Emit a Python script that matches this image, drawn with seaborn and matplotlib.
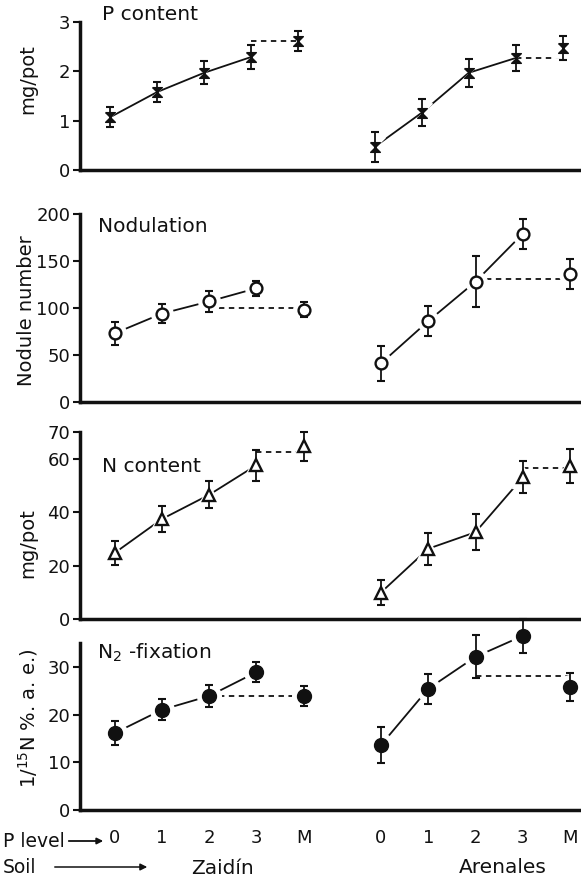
import numpy as np
import pandas as pd
import matplotlib.pyplot as plt
import matplotlib.patches as mpatches
import seaborn as sns

sns.set_theme(style="white")
plt.rcParams['font.family'] = ['DejaVu Sans']

levels = ["0", "1", "2", "3", "M"]
soils = ["Zaidín", "Arenales"]

p_zaidin = [1.07, 1.58, 1.97, 2.29, 2.62]
p_zaidin_err = [0.20, 0.20, 0.23, 0.25, 0.20]
p_arenales = [0.47, 1.16, 1.97, 2.27, 2.47]
p_arenales_err = [0.30, 0.27, 0.28, 0.26, 0.25]

nod_zaidin = [73, 94, 107, 121, 98]
nod_zaidin_err = [12, 10, 11, 8, 8]
nod_arenales = [41, 86, 128, 179, 136]
nod_arenales_err = [19, 16, 27, 16, 16]

n_zaidin = [24.7, 37.4, 46.5, 57.6, 64.6]
n_zaidin_err = [4.5, 4.8, 5.0, 5.8, 5.3]
n_arenales = [9.9, 26.3, 32.5, 53.0, 57.2]
n_arenales_err = [4.7, 6.0, 6.8, 6.0, 6.4]

fix_zaidin = [16.1, 21.0, 23.9, 28.9, 23.9]
fix_zaidin_err = [2.5, 2.2, 2.3, 2.1, 2.1]
fix_arenales = [13.6, 25.4, 32.1, 36.5, 25.8]
fix_arenales_err = [3.7, 3.1, 4.5, 3.6, 2.9]

# dashed link to M: (start level index, height) per soil
p_dash = [(3, 2.62), (3, 2.27)]
nod_dash = [(2, 100), (2, 131)]
n_dash = [(3, 62.5), (3, 56.4)]
fix_dash = [(2, 23.9), (2, 28.1)]

panels = [
    dict(name="P content", vals=[p_zaidin, p_arenales], errs=[p_zaidin_err, p_arenales_err],
         dash=p_dash, ylim=3, yticks=[0, 1, 2, 3], ylabel="mg/pot"),
    dict(name="Nodulation", vals=[nod_zaidin, nod_arenales], errs=[nod_zaidin_err, nod_arenales_err],
         dash=nod_dash, ylim=200, yticks=[0, 50, 100, 150, 200], ylabel="Nodule number"),
    dict(name="N content", vals=[n_zaidin, n_arenales], errs=[n_zaidin_err, n_arenales_err],
         dash=n_dash, ylim=70, yticks=[0, 20, 40, 60, 70], ylabel="mg/pot"),
    dict(name="N$_2$ -fixation", vals=[fix_zaidin, fix_arenales], errs=[fix_zaidin_err, fix_arenales_err],
         dash=fix_dash, ylim=35, yticks=[0, 10, 20, 30], ylabel="1/$^{15}$N %. a. e.)"),
]

hourglass = [(-1, 1), (1, 1), (-1, -1), (1, -1), (-1, 1)]
marker_styles = [
    dict(marker=hourglass, ms=7, mfc='#111111', mec='#111111'),
    dict(marker='o', ms=8.5, mfc='white', mec='#111111', mew=1.7),
    dict(marker='^', ms=8.5, mfc='white', mec='#111111', mew=1.7),
    dict(marker='o', ms=10, mfc='#111111', mec='#111111'),
]

# layout (pixels of the 581x880 reference)
W, H = 581, 880
boxes = [(22, 170), (214, 402), (432, 619), (643, 810)]
xlims = [(-0.64, 10.02), (-0.73, 9.86), (-0.73, 9.86), (-0.73, 9.86)]
title_pos = [(102, 15), (98, 227), (102, 467), (97, 653)]
ylabel_pos = [(28, 79), (27, 311), (28, 543), (28, 718)]
left_px = 80
soil_offset = [0.0, 5.63]


def xpos(s):
    return [soil_offset[s] + i for i in range(len(levels))]


rows = []
for pi, p in enumerate(panels):
    for s, soil in enumerate(soils):
        for i, lev in enumerate(levels):
            rows.append(dict(panel=pi, soil=soil, level=lev, x=xpos(s)[i],
                             value=p["vals"][s][i], err=p["errs"][s][i]))
df = pd.DataFrame(rows)

fig = plt.figure(figsize=(W / 100, H / 100), dpi=100)
ink = '#111111'

for pi, p in enumerate(panels):
    top, bot = boxes[pi]
    ax = fig.add_axes([left_px / W, 1 - bot / H, 1 - left_px / W, (bot - top) / H])
    sub = df[df.panel == pi]
    line_df = sub[sub.level != "M"]
    sns.lineplot(ax=ax, data=line_df, x="x", y="value", units="soil", estimator=None,
                 color=ink, lw=1.3, legend=False)
    for ln in ax.lines:
        ln.set_clip_on(False)
    ms = marker_styles[pi]
    for s, soil in enumerate(soils):
        d = sub[sub.soil == soil]
        start, lvl = p["dash"][s]
        xs = d.x.to_numpy()
        ax.plot([xs[start], xs[-1]], [lvl, lvl], ls=(0, (3, 2.5)), color=ink, lw=1.3)
        # white halo so the lines stop short of the symbols
        ax.plot(d.x, d.value, ls='none', marker=ms['marker'], ms=ms['ms'] + 7,
                mfc='white', mec='white', clip_on=False, zorder=3)
        cont = ax.errorbar(d.x, d.value, yerr=d.err, fmt='none', ecolor=ink,
                           elinewidth=1.3, capsize=3, capthick=1.5, zorder=4)
        for art in cont.get_children():
            art.set_clip_on(False)
        ax.plot(d.x, d.value, ls='none', clip_on=False, zorder=5, **ms)

    ax.set_xlim(*xlims[pi])
    ax.set_ylim(0, p["ylim"])
    ax.set_yticks(p["yticks"])
    ax.set_xlabel("")
    ax.set_ylabel("")
    sns.despine(ax=ax)
    for side in ["left", "bottom"]:
        ax.spines[side].set_linewidth(2.5)
        ax.spines[side].set_color(ink)
    ax.tick_params(axis='y', direction='out', length=5, width=1.5, colors=ink,
                   labelsize=13, pad=2, left=True)
    if pi < 3:
        ax.set_xticks([])
    else:
        ax.set_xticks(list(xpos(0)) + list(xpos(1)))
        ax.set_xticklabels(levels + levels)
        ax.tick_params(axis='x', length=0, labelsize=13, pad=14, colors=ink)
    ax.patch.set_alpha(0)

    tx, ty = title_pos[pi]
    fig.text(tx / W, 1 - ty / H, p["name"], fontsize=14.5, va='center', ha='left', color=ink)
    lx, ly = ylabel_pos[pi]
    fig.text(lx / W, 1 - ly / H, p["ylabel"], fontsize=14, va='center', ha='center',
             rotation=90, color=ink)

# bottom annotations
fig.text(3 / W, 1 - 841 / H, "P level", fontsize=13.5, va='center', ha='left', color=ink)
fig.patches.append(mpatches.FancyArrowPatch(
    (66 / W, 1 - 841 / H), (106 / W, 1 - 841 / H), transform=fig.transFigure,
    arrowstyle='-|>', mutation_scale=9, color=ink, lw=1.3))
fig.text(3 / W, 1 - 867 / H, "Soil", fontsize=13.5, va='center', ha='left', color=ink)
fig.patches.append(mpatches.FancyArrowPatch(
    (52 / W, 1 - 867 / H), (150 / W, 1 - 867 / H), transform=fig.transFigure,
    arrowstyle='-|>', mutation_scale=10, color=ink, lw=1.1))
fig.text(222 / W, 1 - 868 / H, "Zaidín", fontsize=14.5, va='center', ha='center', color=ink)
fig.text(503 / W, 1 - 867 / H, "Arenales", fontsize=14.5, va='center', ha='center', color=ink)

fig.savefig("out.png", dpi=100)
